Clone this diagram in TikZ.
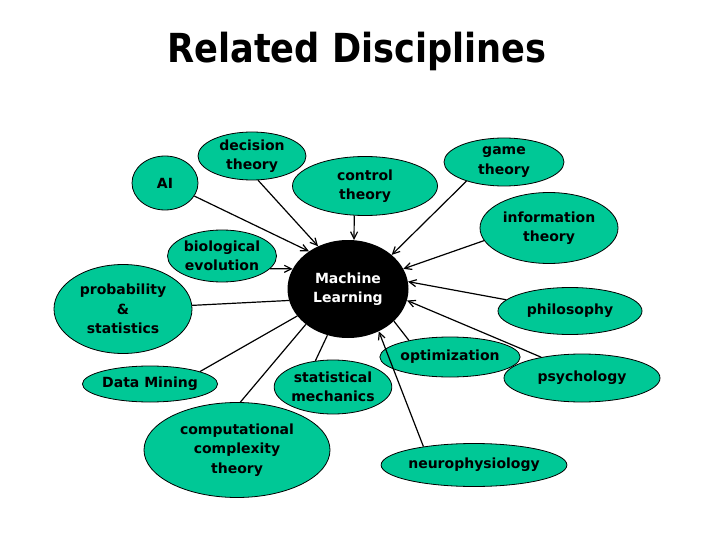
\documentclass[tikz,border=0pt]{standalone}
\usepackage{fontspec}
\setmainfont{DejaVu Sans}
\usetikzlibrary{shapes.geometric,arrows.meta}
\definecolor{discfill}{RGB}{0,200,150}
\tikzset{
  disc/.style={ellipse, draw=black, line width=0.8pt, fill=discfill, inner sep=0pt, align=center,
    font=\fontsize{14}{19.5}\selectfont\bfseries},
  mlnode/.style={ellipse, fill=black, inner sep=0pt, align=center, text=white,
    font=\fontsize{14}{19.5}\selectfont\bfseries},
  link/.style={line width=1.2pt, draw=black},
  arr/.style={link, -{Straight Barb[length=7pt,width=7pt,line width=1.2pt]}},
}
\begin{document}
\begin{tikzpicture}[x=1pt,y=-1pt]
\useasboundingbox (0,0) rectangle (720,540);
\node[anchor=base, font=\fontsize{40}{48}\selectfont\bfseries] (title) at (357,63) {\scalebox{0.88}[1]{Related Disciplines}};

\node[mlnode, minimum width=121pt, minimum height=98pt] (ML) at (348,289) {Machine\\Learning};

\node[disc, minimum width=66pt, minimum height=54pt] (AI) at (165,183) {AI};
\node[disc, minimum width=108pt, minimum height=48pt] (DT) at (252,156) {decision\\theory};
\node[disc, minimum width=145pt, minimum height=59pt] (CT) at (365,186) {control\\theory};
\node[disc, minimum width=120pt, minimum height=48pt] (GT) at (504,162) {game\\theory};
\node[disc, minimum width=138pt, minimum height=71pt] (IT) at (549,228) {information\\theory};
\node[disc, minimum width=144pt, minimum height=47pt] (PH) at (570,311) {philosophy};
\node[disc, minimum width=109pt, minimum height=52pt] (BE) at (222,256) {biological\\evolution};
\node[disc, minimum width=138pt, minimum height=89pt] (PS) at (123,309) {probability\\\&\\statistics};
\node[disc, minimum width=132pt, minimum height=36pt] (DM) at (150,384) {Data Mining};
\node[disc, minimum width=186pt, minimum height=95pt] (CC) at (237,450) {computational\\complexity\\theory};
\node[disc, minimum width=114pt, minimum height=54pt] (SM) at (333,387) {statistical\\mechanics};
\node[disc, minimum width=108pt, minimum height=40pt] (OP) at (450,357) {optimization};
\node[disc, minimum width=156pt, minimum height=48pt] (PY) at (582,378) {psychology};
\node[disc, minimum width=168pt, minimum height=43pt] (NP) at (474,465) {neurophysiology};

\draw[arr] (AI.-24) -- (ML.136);
\draw[arr] (DT.-76) -- (ML.125);
\draw[arr] (CT.-110) -- (ML.83);
\draw[arr] (GT.-153) -- (ML.38);
\draw[arr] (IT.-169) -- (ML.20);
\draw[arr] (PH.170) -- (ML.7);
\draw[arr] (PY.153) -- (ML.-11);
\draw[arr] (BE.-15) -- (ML.160);
\draw[link] (PS.3) -- (ML.-169);
\draw[link] (DM.14) -- (ML.-152);
\draw[link] (CC.86) -- (ML.-140);
\draw[link] (SM.124) -- (ML.-114);
\draw[link] (OP.158) -- (ML.-35);
\draw[arr] (NP.160) -- (ML.-54);
\end{tikzpicture}
\end{document}
